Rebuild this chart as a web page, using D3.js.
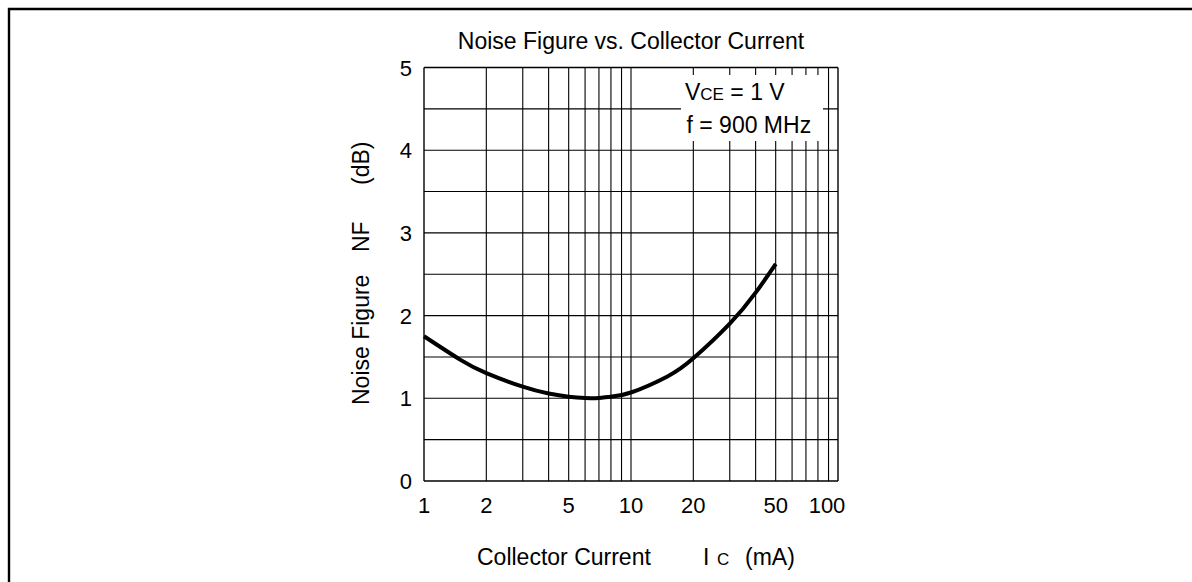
<!DOCTYPE html>
<html>
<head>
<meta charset="utf-8">
<script src="https://cdn.jsdelivr.net/npm/d3@7"></script>
<style>
  html, body { margin: 0; padding: 0; background: #fff; }
  svg { display: block; }
  text { font-family: "Liberation Sans", Arial, Helvetica, sans-serif; fill: #000; }
</style>
</head>
<body>
<svg id="chart" width="1192" height="582"></svg>
<script>
// ---- data ----
const collectorCurrent = [1, 1.5, 2, 3, 4, 5, 6, 7, 8, 10, 15, 20, 30, 40, 50];   // mA
const noiseFigure      = [1.75, 1.465, 1.305, 1.14, 1.057, 1.018, 1.003, 1.005, 1.02, 1.07, 1.264, 1.483, 1.902, 2.277, 2.625]; // dB
const xTickLabels = [1, 2, 5, 10, 20, 50, 100];
const yTickLabels = [0, 1, 2, 3, 4, 5];
const xGrid = [1,2,3,4,5,6,7,8,9,10,20,30,40,50,60,70,80,90,100];
const yGrid = [0,0.5,1,1.5,2,2.5,3,3.5,4,4.5,5];

// ---- layout ----
const W = 1192, H = 582;
const plot = { left: 424, right: 838, top: 67.5, bottom: 481 };
const svg = d3.select("#chart");

const x = d3.scaleLog().domain([1, 100]).range([plot.left, plot.right]);
const y = d3.scaleLinear().domain([0, 5]).range([plot.bottom, plot.top]);

// outer frame (left and top edges)
svg.append("path")
  .attr("d", `M9,${H} V9 H${W}`)
  .attr("fill", "none").attr("stroke", "#000").attr("stroke-width", 2.4);

// grid
const g = svg.append("g");
g.selectAll("line.vx").data(xGrid).enter().append("line")
  .attr("x1", d => x(d)).attr("x2", d => x(d))
  .attr("y1", y(0)).attr("y2", y(5))
  .attr("stroke", "#000").attr("stroke-width", d => (d === 1 || d === 100) ? 1.4 : 1.1);
g.selectAll("line.hy").data(yGrid).enter().append("line")
  .attr("y1", d => y(d)).attr("y2", d => y(d))
  .attr("x1", x(1)).attr("x2", x(100))
  .attr("stroke", "#000").attr("stroke-width", d => (d === 0 || d === 5) ? 1.4 : 1.1);

// legend box (white background that interrupts the grid)
const lgX = plot.right - 157, lgY = plot.top + 7.5;
svg.append("rect").attr("x", lgX).attr("y", lgY).attr("width", 142).attr("height", 66)
  .attr("fill", "#fff");
const t1 = svg.append("text").attr("x", lgX + 4).attr("y", lgY + 25).attr("font-size", 23);
t1.append("tspan").text("V");
t1.append("tspan").attr("font-size", 17).text("CE");
t1.append("tspan").text(" = 1 V");
svg.append("text").attr("x", lgX + 5.5).attr("y", lgY + 58).attr("font-size", 23).text("f = 900 MHz");

// curve
const line = d3.line()
  .x((d, i) => x(collectorCurrent[i]))
  .y(d => y(d))
  .curve(d3.curveNatural);
svg.append("path").datum(noiseFigure)
  .attr("d", line).attr("fill", "none").attr("stroke", "#000")
  .attr("stroke-width", 4).attr("stroke-linejoin", "round");

// tick labels
svg.selectAll("text.xt").data(xTickLabels).enter().append("text")
  .attr("x", d => x(d) - (d === 100 ? 11 : 0)).attr("y", plot.bottom + 32)
  .attr("text-anchor", "middle").attr("font-size", 22).text(d => d);
svg.selectAll("text.yt").data(yTickLabels).enter().append("text")
  .attr("x", plot.left - 12).attr("y", d => y(d) + 8)
  .attr("text-anchor", "end").attr("font-size", 22).text(d => d);

// title
svg.append("text").attr("x", (plot.left + plot.right) / 2).attr("y", 49)
  .attr("text-anchor", "middle").attr("font-size", 23)
  .text("Noise Figure vs. Collector Current");

// x axis label
svg.append("text").attr("x", 477).attr("y", 565).attr("font-size", 23).text("Collector Current");
svg.append("text").attr("x", 703).attr("y", 565).attr("font-size", 23).text("I");
svg.append("text").attr("x", 717).attr("y", 565).attr("font-size", 17).text("C");
svg.append("text").attr("x", 745).attr("y", 565).attr("font-size", 23).text("(mA)");

// y axis label (rotated)
const yl = svg.append("g").attr("transform", "translate(369,0) rotate(-90)");
yl.append("text").attr("x", -405).attr("y", 0).attr("font-size", 23).text("Noise Figure");
yl.append("text").attr("x", -252).attr("y", 0).attr("font-size", 23).text("NF");
yl.append("text").attr("x", -185).attr("y", 0).attr("font-size", 23).text("(dB)");
</script>
</body>
</html>
